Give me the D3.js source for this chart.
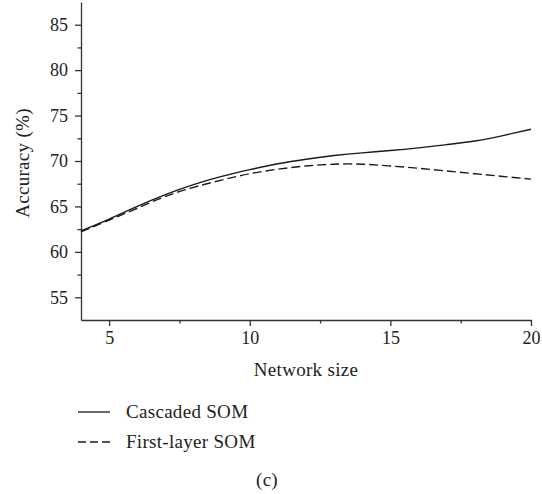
<!doctype html>
<html>
<head>
<meta charset="UTF-8">
<title>Accuracy vs network size</title>
<style>
	body { margin: 0; background: #fff; }
	text { font-family: "Liberation Serif", "DejaVu Serif", serif; fill: #222; }
	.axis path, .axis line { stroke: #333; stroke-width: 1.3; }
	.axis text { font-size: 18px; font-family: "Liberation Serif", serif; fill: #222; }
	.label { font-size: 19px; letter-spacing: 0.3px; }
</style>
</head>
<body>
<script src="https://cdn.jsdelivr.net/npm/d3@7"></script>
<script>
	// data
	var sizes = [4, 5, 6, 7, 8, 9, 10, 11, 12, 13, 14, 15, 16, 17, 18, 19, 20];
	var cascaded = [62.3, 63.6, 65.0, 66.3, 67.4, 68.3, 69.05, 69.7, 70.2, 70.6, 70.9, 71.15, 71.45, 71.8, 72.2, 72.8, 73.5];
	var firstLayer = [62.2, 63.5, 64.8, 66.1, 67.1, 67.9, 68.6, 69.1, 69.45, 69.65, 69.65, 69.45, 69.2, 68.9, 68.6, 68.3, 68.0];
	var xTicks = [5, 10, 15, 20];
	var yTicks = [55, 60, 65, 70, 75, 80, 85];
	var seriesNames = ['Cascaded SOM', 'First-layer SOM'];

	var w = 542,
		h = 494,
		plotLeft = 81,
		plotRight = 531,
		plotTop = 2,
		plotBottom = 320;

	var svg = d3.select('body').append('svg')
		.attr('width', w)
		.attr('height', h);

	var x = d3.scaleLinear().domain([4, 20]).range([plotLeft, plotRight]);
	var y = d3.scaleLinear().domain([52.5, 87.5]).range([plotBottom, plotTop]);

	// minor ticks first, major ticks on top
	var xMinor = d3.range(7.5, 20, 5);
	var yMinor = d3.range(57.5, 87.5, 5);

	svg.append('g')
		.attr('class', 'axis')
		.attr('transform', 'translate(0,' + plotBottom + ')')
		.call(d3.axisBottom(x).tickValues(xMinor).tickSize(3.5).tickFormat(''))
		.select('.domain').remove();

	svg.append('g')
		.attr('class', 'axis')
		.attr('transform', 'translate(' + plotLeft + ',0)')
		.call(d3.axisLeft(y).tickValues(yMinor).tickSize(3.5).tickFormat(''))
		.select('.domain').remove();

	svg.append('g')
		.attr('class', 'axis')
		.attr('transform', 'translate(0,' + plotBottom + ')')
		.call(d3.axisBottom(x).tickValues(xTicks).tickSize(6).tickSizeOuter(0).tickPadding(5));

	svg.append('g')
		.attr('class', 'axis')
		.attr('transform', 'translate(' + plotLeft + ',0)')
		.call(d3.axisLeft(y).tickValues(yTicks).tickSize(6).tickSizeOuter(0).tickPadding(7));

	// axis titles
	svg.append('text')
		.attr('class', 'label')
		.attr('x', 306)
		.attr('y', 376)
		.attr('text-anchor', 'middle')
		.text('Network size');

	svg.append('text')
		.attr('class', 'label')
		.attr('transform', 'translate(29,163) rotate(-90)')
		.attr('text-anchor', 'middle')
		.text('Accuracy (%)');

	// lines
	var line = d3.line()
		.x(function(d, i) { return x(sizes[i]); })
		.y(function(d) { return y(d); })
		.curve(d3.curveNatural);

	svg.append('path')
		.datum(cascaded)
		.attr('d', line)
		.attr('fill', 'none')
		.attr('stroke', '#1a1a1a')
		.attr('stroke-width', 1.4);

	svg.append('path')
		.datum(firstLayer)
		.attr('d', line)
		.attr('fill', 'none')
		.attr('stroke', '#1a1a1a')
		.attr('stroke-width', 1.4)
		.attr('stroke-dasharray', '9,4');

	// legend
	var legend = svg.append('g');
	seriesNames.forEach(function(name, i) {
		var ly = 412 + i * 30;
		legend.append('line')
			.attr('x1', 78).attr('x2', 110)
			.attr('y1', ly).attr('y2', ly)
			.attr('stroke', '#1a1a1a')
			.attr('stroke-width', 1.3)
			.attr('stroke-dasharray', i === 1 ? '8,4' : null);
		legend.append('text')
			.attr('class', 'label')
			.attr('x', 126)
			.attr('y', ly + 6)
			.text(name);
	});

	svg.append('text')
		.attr('class', 'label')
		.attr('x', 267)
		.attr('y', 486)
		.attr('text-anchor', 'middle')
		.text('(c)');
</script>
</body>
</html>
